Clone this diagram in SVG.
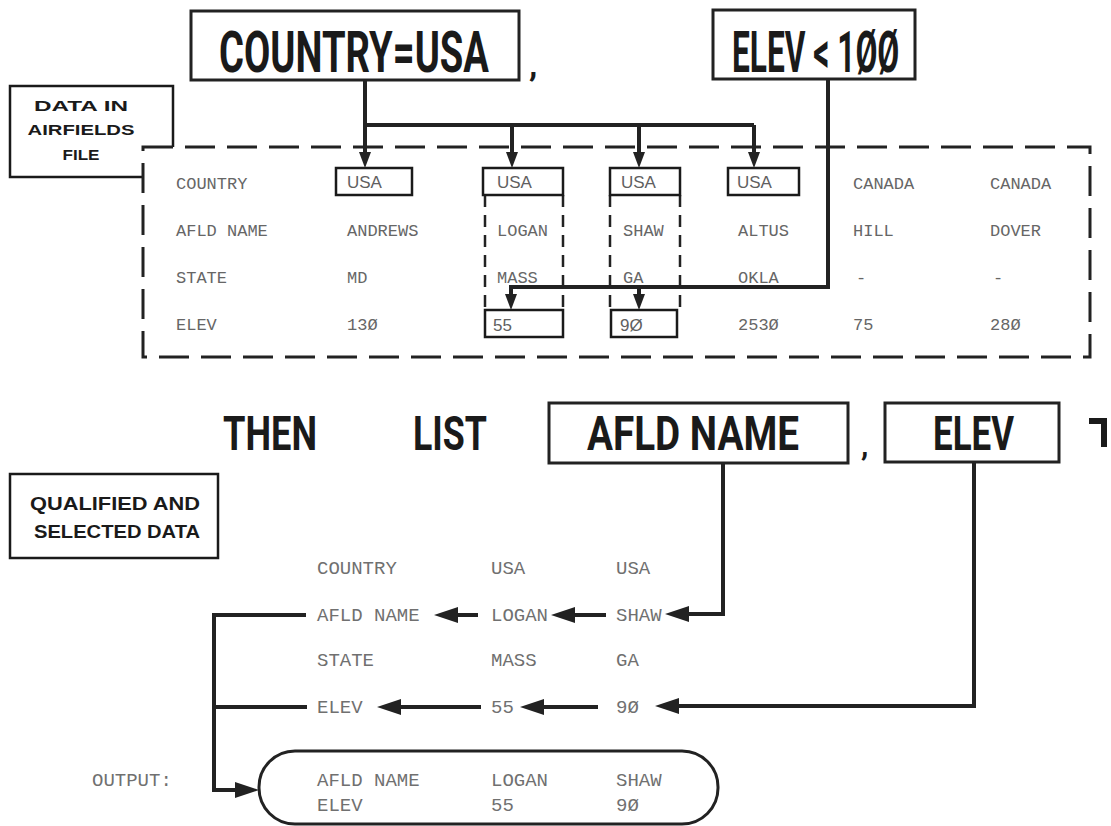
<svg xmlns="http://www.w3.org/2000/svg" width="1111" height="826" viewBox="0 0 1111 826">
<style>
.title{font-family:"Roboto","Liberation Sans",sans-serif;font-weight:bold;fill:#1a1a1a}
.lbl{font-family:"Liberation Sans","DejaVu Sans",sans-serif;font-weight:bold;fill:#1a1a1a;text-anchor:middle}
.tw{font-family:"Liberation Mono","DejaVu Sans Mono",monospace;font-size:17px;fill:#666}
.tw2{font-family:"Liberation Mono","DejaVu Sans Mono",monospace;font-size:19px;fill:#707070}
.bx{font-family:"Liberation Sans","DejaVu Sans",sans-serif;font-size:17px;fill:#606060}
.box{fill:none;stroke:#1a1a1a;stroke-width:2.5}
.sbox{fill:none;stroke:#222;stroke-width:3}
.dash{fill:none;stroke:#222;stroke-width:3;stroke-dasharray:30 12}
.dcol{fill:none;stroke:#222;stroke-width:2.5;stroke-dasharray:12 8}
.con{fill:none;stroke:#222;stroke-width:4}
</style>
<defs>
<marker id="aS" markerUnits="userSpaceOnUse" markerWidth="12" markerHeight="16" refX="6" refY="0" orient="0" viewBox="0 0 12 16">
<path d="M0,0 L12,0 L6,16 Z" fill="#222"/>
</marker>
<marker id="aL" markerUnits="userSpaceOnUse" markerWidth="24" markerHeight="16" refX="24" refY="8" orient="0" viewBox="0 0 24 16">
<path d="M0,8 L24,0 L24,16 Z" fill="#222"/>
</marker>
<marker id="aR" markerUnits="userSpaceOnUse" markerWidth="24" markerHeight="16" refX="0" refY="8" orient="0" viewBox="0 0 24 16">
<path d="M0,0 L24,8 L0,16 Z" fill="#222"/>
</marker>
</defs>

<g id="q-country">
<rect class="sbox" x="191" y="11" width="328" height="69"/>
<text class="title" x="0" y="0" font-size="39" textLength="270" lengthAdjust="spacingAndGlyphs" transform="translate(219,72) scale(1,1.487)">COUNTRY=USA</text>
</g>
<text class="title" x="529" y="76" font-size="34">,</text>
<g id="q-elev">
<rect class="sbox" x="713" y="10" width="202" height="69"/>
<text class="title" x="732" y="72" font-size="58" textLength="167" lengthAdjust="spacingAndGlyphs">ELEV &lt; 1ØØ</text>
</g>

<g id="label-airfields">
<path class="box" d="M143,177 H10 V86 H173 V147"/>
<text class="lbl" x="81" y="111" font-size="15" textLength="94" lengthAdjust="spacingAndGlyphs">DATA IN</text>
<text class="lbl" x="81" y="135" font-size="15" textLength="107" lengthAdjust="spacingAndGlyphs">AIRFIELDS</text>
<text class="lbl" x="81" y="160" font-size="15" textLength="37" lengthAdjust="spacingAndGlyphs">FILE</text>
</g>

<g id="airfields-file">
<path class="dash" d="M143,147 H1090 V357 H143 Z"/>
<path class="dcol" d="M485,195 V310 M563,195 V310 M610,195 V310 M680,195 V310"/>
<rect class="box" x="336" y="168" width="76" height="27"/>
<rect class="box" x="483" y="168" width="80" height="27"/>
<rect class="box" x="610" y="168" width="70" height="27"/>
<rect class="box" x="728" y="168" width="71" height="27"/>
<rect class="box" x="485" y="310" width="78" height="27"/>
<rect class="box" x="611" y="310" width="66" height="27"/>
<text class="tw" x="176" y="189">COUNTRY</text>
<text class="tw" x="176" y="236">AFLD NAME</text>
<text class="tw" x="176" y="283">STATE</text>
<text class="tw" x="176" y="330">ELEV</text>
<text class="bx" x="347" y="188">USA</text>
<text class="bx" x="497" y="188">USA</text>
<text class="bx" x="621" y="188">USA</text>
<text class="bx" x="737" y="188">USA</text>
<text class="tw" x="853" y="189">CANADA</text>
<text class="tw" x="990" y="189">CANADA</text>
<text class="tw" x="347" y="236">ANDREWS</text>
<text class="tw" x="497" y="236">LOGAN</text>
<text class="tw" x="623" y="236">SHAW</text>
<text class="tw" x="738" y="236">ALTUS</text>
<text class="tw" x="853" y="236">HILL</text>
<text class="tw" x="990" y="236">DOVER</text>
<text class="tw" x="347" y="283">MD</text>
<text class="tw" x="497" y="283">MASS</text>
<text class="tw" x="623" y="283">GA</text>
<text class="tw" x="738" y="283">OKLA</text>
<text class="tw" x="856" y="283">-</text>
<text class="tw" x="993" y="283">-</text>
<text class="tw" x="347" y="330">13Ø</text>
<text class="bx" x="493" y="331">55</text>
<text class="bx" x="620" y="331">9Ø</text>
<text class="tw" x="738" y="330">253Ø</text>
<text class="tw" x="853" y="330">75</text>
<text class="tw" x="990" y="330">28Ø</text>
</g>

<text class="title" x="223" y="450" font-size="49" textLength="94" lengthAdjust="spacingAndGlyphs">THEN</text>
<text class="title" x="413" y="450" font-size="49" textLength="74" lengthAdjust="spacingAndGlyphs">LIST</text>
<g id="sel-afld">
<rect class="sbox" x="549" y="403" width="299" height="60"/>
<text class="title" x="587" y="450" font-size="49" textLength="212" lengthAdjust="spacingAndGlyphs">AFLD NAME</text>
</g>
<text class="title" x="861" y="456" font-size="30">,</text>
<g id="sel-elev">
<rect class="sbox" x="885" y="403" width="174" height="59"/>
<text class="title" x="933" y="450" font-size="49" textLength="81" lengthAdjust="spacingAndGlyphs">ELEV</text>
</g>
<path d="M1089,421 H1104 V447" fill="none" stroke="#1a1a1a" stroke-width="6"/>

<g id="label-selected">
<rect class="box" x="10" y="474" width="208" height="84"/>
<text class="lbl" x="115" y="510" font-size="19" textLength="170" lengthAdjust="spacingAndGlyphs">QUALIFIED AND</text>
<text class="lbl" x="117" y="538" font-size="19" textLength="166" lengthAdjust="spacingAndGlyphs">SELECTED DATA</text>
</g>

<g id="selected-data">
<text class="tw2" x="317" y="574">COUNTRY</text>
<text class="tw2" x="491" y="574">USA</text>
<text class="tw2" x="616" y="574">USA</text>
<text class="tw2" x="317" y="621">AFLD NAME</text>
<text class="tw2" x="491" y="621">LOGAN</text>
<text class="tw2" x="616" y="621">SHAW</text>
<text class="tw2" x="317" y="666">STATE</text>
<text class="tw2" x="491" y="666">MASS</text>
<text class="tw2" x="616" y="666">GA</text>
<text class="tw2" x="317" y="713">ELEV</text>
<text class="tw2" x="491" y="713">55</text>
<text class="tw2" x="616" y="713">9Ø</text>
</g>

<text class="tw2" x="92" y="786">OUTPUT:</text>
<g id="output">
<rect class="sbox" x="259" y="751" width="459" height="73" rx="36" ry="36"/>
<text class="tw2" x="317" y="786">AFLD NAME</text>
<text class="tw2" x="491" y="786">LOGAN</text>
<text class="tw2" x="616" y="786">SHAW</text>
<text class="tw2" x="317" y="811">ELEV</text>
<text class="tw2" x="491" y="811">55</text>
<text class="tw2" x="616" y="811">9Ø</text>
</g>

<g id="connectors">
<path class="con" d="M365,80 V125 H754"/>
<path class="con" d="M365,125 V152" marker-end="url(#aS)"/>
<path class="con" d="M512,125 V152" marker-end="url(#aS)"/>
<path class="con" d="M639,125 V152" marker-end="url(#aS)"/>
<path class="con" d="M754,125 V152" marker-end="url(#aS)"/>
<path class="con" d="M828,79 V287 H511 V294" marker-end="url(#aS)"/>
<path class="con" d="M639,287 V294" marker-end="url(#aS)"/>
<path class="con" d="M723,463 V614 H689" marker-end="url(#aL)"/>
<path class="con" d="M606,615 H575" marker-end="url(#aL)"/>
<path class="con" d="M478,615 H458" marker-end="url(#aL)"/>
<path class="con" d="M974,462 V706 H679" marker-end="url(#aL)"/>
<path class="con" d="M598,707 H544" marker-end="url(#aL)"/>
<path class="con" d="M481,707 H401" marker-end="url(#aL)"/>
<path class="con" d="M306,615 H214 V790 H235" marker-end="url(#aR)"/>
<path class="con" d="M307,707 H214"/>
</g>
</svg>
